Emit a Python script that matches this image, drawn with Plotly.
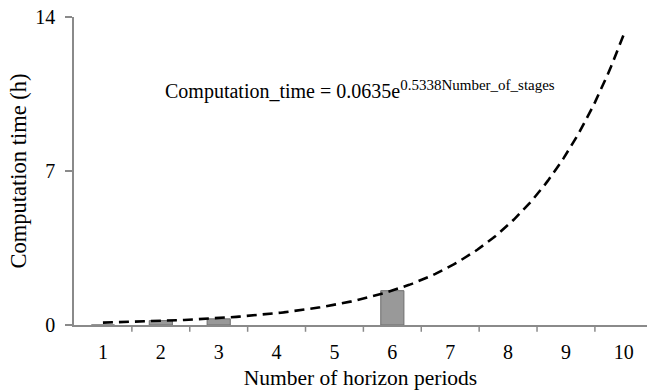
import numpy as np
import plotly.graph_objects as go

periods = [1, 2, 3, 4, 5, 6, 7, 8, 9, 10]
tick_labels = [str(p) for p in periods]
comp_time = [0.0, 0.2, 0.28, None, None, 1.56, None, None, None, None]
coef_a = 0.0635
coef_b = 0.5338

x_fit = np.linspace(1, 10, 200)
y_fit = coef_a * np.exp(coef_b * x_fit)

fig = go.Figure()
fig.add_trace(go.Bar(
    x=periods, y=comp_time, width=0.4,
    marker=dict(color="#999999", line=dict(color="#6e6e6e", width=1)),
    showlegend=False, hoverinfo="skip"))
fig.add_trace(go.Scatter(
    x=x_fit, y=y_fit, mode="lines",
    line=dict(color="black", width=2.6, dash="10px,6px"),
    showlegend=False, hoverinfo="skip"))

font = "Liberation Serif, Times New Roman, serif"
axis_col = "#8a8a8a"
fig.update_layout(
    width=647, height=391,
    margin=dict(l=74, r=0, t=17, b=66),
    paper_bgcolor="white", plot_bgcolor="white",
    font=dict(family=font, size=20, color="black"),
    xaxis=dict(
        range=[0.5, 10.4], tickmode="array", tickvals=periods, ticktext=tick_labels,
        showgrid=False, zeroline=False, showline=True, linecolor=axis_col, linewidth=1.5,
        ticks="", automargin=False, ticklabelstandoff=8, ticklabeloverflow="allow",
        title=dict(text="Number of horizon periods", standoff=8,
                   font=dict(size=21.5, family=font)),
        tickfont=dict(size=20, family=font)),
    yaxis=dict(
        range=[0, 14], tickvals=[0, 7, 14], showgrid=False, zeroline=False,
        showline=True, linecolor=axis_col, linewidth=1.5, automargin=False,
        ticks="outside", ticklen=7, tickcolor=axis_col, tickwidth=1.5,
        ticklabelstandoff=6, ticklabeloverflow="allow",
        title=dict(text="Computation time (h)", standoff=2,
                   font=dict(size=22.5, family=font)),
        tickfont=dict(size=20, family=font)),
)
# category boundary ticks on x-axis
for b in np.arange(1.5, 10.5, 1.0):
    fig.add_shape(type="line", xref="x", yref="paper", x0=b, x1=b, y0=0, y1=-0.022,
                  line=dict(color=axis_col, width=1.5))
fig.add_annotation(
    xref="paper", yref="paper", x=(163 - 74) / 573, y=(325 - 90) / 308,
    xanchor="left", yanchor="middle",
    text="Computation_time = 0.0635e<sup><span style='font-size:15px'>0.5338Number_of_stages</span></sup>",
    showarrow=False, font=dict(size=20, family=font, color="black"))

fig.write_html("out.html", config={"displayModeBar": False},
               post_script="document.body.style.margin='0';document.body.style.overflow='hidden';")
